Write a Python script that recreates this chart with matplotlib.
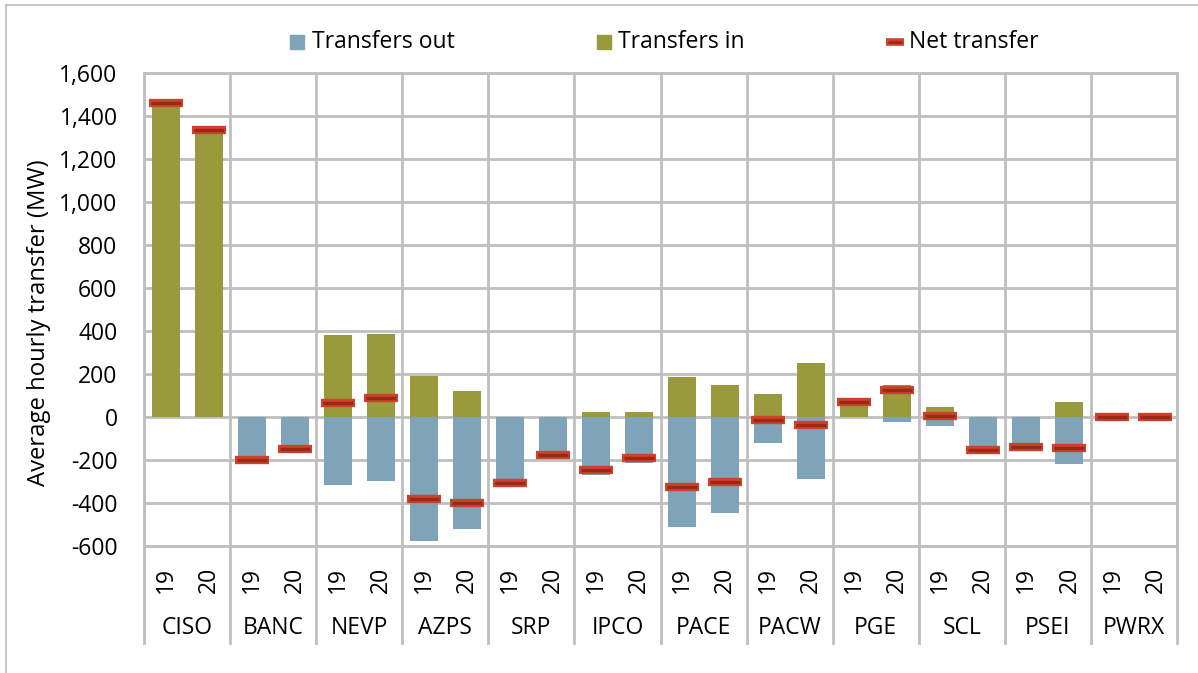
import matplotlib
matplotlib.use("Agg")
import matplotlib.pyplot as plt
import matplotlib.transforms as mtransforms
from matplotlib.lines import Line2D
from matplotlib.patches import Rectangle
import numpy as np

regions = ["CISO", "BANC", "NEVP", "AZPS", "SRP", "IPCO", "PACE", "PACW", "PGE", "SCL", "PSEI", "PWRX"]
years = ["19", "20"]

# values per region: (2019, 2020)
transfers_out = [0, 0, -200, -150, -316, -296, -575, -521, -305, -175, -270, -212,
                 -513, -448, -122, -288, 0, -25, -40, -155, -140, -219, 0, 0]
transfers_in = [1460, 1335, 0, 0, 380, 386, 191, 121, 0, 0, 25, 23,
                185, 147, 106, 250, 72, 150, 45, 0, 0, 71, 0, 0]
net_transfer = [1460, 1335, -200, -150, 66, 90, -383, -400, -305, -175, -247, -189,
                -326, -301, -15, -37, 72, 127, 5, -155, -140, -146, 0, 0]

C_OUT = "#7FA3B8"
C_IN = "#989A3C"
C_NET = "#CF4128"
C_NET_IN = "#99291B"
GRID = "#BFBFBF"
FONT = "Open Sans"
FS = 16.5
FS_LABEL = 17.2

plt.rcParams['font.family'] = [FONT, 'DejaVu Sans']

W, H = 1198, 673
fig = plt.figure(figsize=(W / 100, H / 100), dpi=100)
ax_l, ax_r, ax_t, ax_b = 144, 1177, 73, 546
ax = fig.add_axes([ax_l / W, 1 - ax_b / H, (ax_r - ax_l) / W, (ax_b - ax_t) / H])

n = len(regions) * len(years)
x = np.arange(n)
bw = 0.65
ax.bar(x, transfers_out, width=bw, color=C_OUT, zorder=3)
ax.bar(x, transfers_in, width=bw, color=C_IN, zorder=3)
ax.plot(x, net_transfer, ls='none', marker='_', ms=24.5, mew=6.0, color=C_NET, zorder=4)
ax.plot(x, net_transfer, ls='none', marker='_', ms=21.5, mew=2.4, color=C_NET_IN, zorder=5)

ax.set_xlim(-0.5, n - 0.5)
ax.set_ylim(-600, 1600)
ax.set_yticks(np.arange(-600, 1601, 200))
ax.yaxis.set_major_formatter(matplotlib.ticker.FuncFormatter(lambda v, p: f"{int(v):,}"))
ax.tick_params(axis='y', length=0, pad=19, labelsize=FS)
ax.set_xticks([])
ax.yaxis.grid(True, color=GRID, lw=2, zorder=0)
bounds = np.arange(-0.5, n, 2)
for b in bounds:
    ax.axvline(b, color=GRID, lw=2, zorder=0)
for s in ax.spines.values():
    s.set_color(GRID)
    s.set_linewidth(2)

# category axis below
trans = mtransforms.blended_transform_factory(ax.transData, ax.transAxes)
h_ax = ax_b - ax_t
y_end = -(643 - ax_b) / h_ax
for b in bounds:
    ax.plot([b, b], [0, y_end], color=GRID, lw=2, transform=trans, clip_on=False)
y_year = -(580 - ax_b) / h_ax
y_reg = -(628 - ax_b) / h_ax
for i, xi in enumerate(x):
    ax.text(xi, y_year, years[i % 2], rotation=90, ha='center', va='center',
            fontsize=FS, transform=trans)
for g, r in enumerate(regions):
    ax.text(2 * g + 0.5, y_reg, r, ha='center', va='center', fontsize=FS, transform=trans)

fig.text(39 / W, 1 - 323 / H, "Average hourly transfer (MW)", rotation=90,
         ha='center', va='center', fontsize=FS_LABEL)

# legend (manual)
ly = 1 - 42 / H
sq = 14
fig.patches.append(Rectangle((290 / W, ly - (sq / 2) / H), sq / W, sq / H, color=C_OUT,
                             transform=fig.transFigure))
fig.text(312 / W, ly, "Transfers out", ha='left', va='center', fontsize=FS)
fig.patches.append(Rectangle((597 / W, ly - (sq / 2) / H), sq / W, sq / H, color=C_IN,
                             transform=fig.transFigure))
fig.text(618 / W, ly, "Transfers in", ha='left', va='center', fontsize=FS)
fig.lines.append(Line2D([886 / W, 904 / W], [ly, ly], color=C_NET, lw=5.5,
                        transform=fig.transFigure, solid_capstyle='butt'))
fig.lines.append(Line2D([888 / W, 902 / W], [ly, ly], color=C_NET_IN, lw=2,
                        transform=fig.transFigure, solid_capstyle='butt'))
fig.text(909 / W, ly, "Net transfer", ha='left', va='center', fontsize=FS)

# chart border
fig.lines.append(Line2D([6 / W, 1], [1 - 5 / H, 1 - 5 / H], color="#C8C8C8", lw=1.5,
                        transform=fig.transFigure))
fig.lines.append(Line2D([6 / W, 6 / W], [0, 1 - 5 / H], color="#C8C8C8", lw=1.5,
                        transform=fig.transFigure))

fig.savefig("out.png", dpi=100)
